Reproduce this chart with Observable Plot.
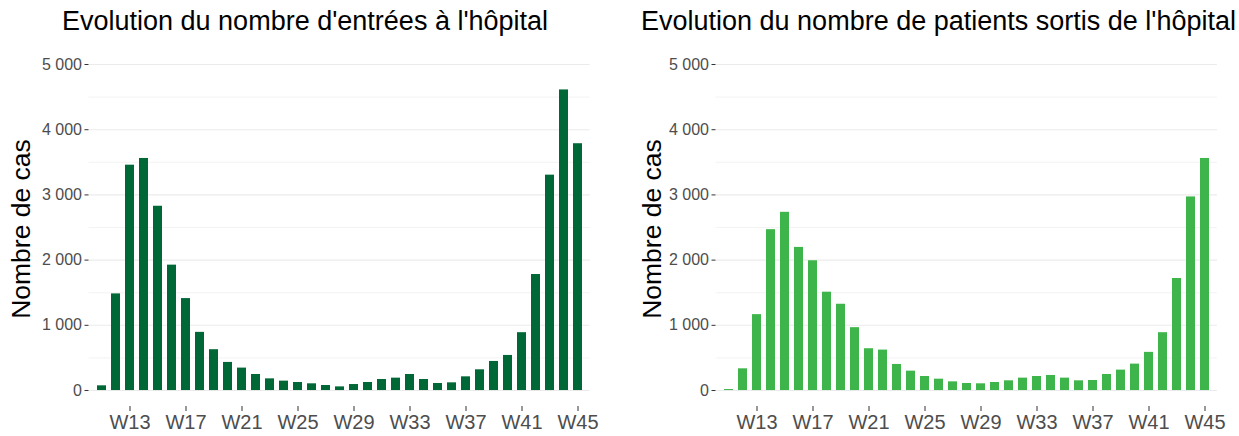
<!DOCTYPE html>
<html><head><meta charset="utf-8">
<script src="https://cdn.jsdelivr.net/npm/d3@7"></script>
<script src="https://cdn.jsdelivr.net/npm/@observablehq/plot@0.6"></script>
<style>
body{margin:0;background:#fff;width:1239px;height:436px;overflow:hidden;position:relative;font-family:"Liberation Sans",Arial,sans-serif;}
.title{position:absolute;font-size:27px;line-height:27px;color:#000;white-space:nowrap;}
.ylab{position:absolute;font-size:26.5px;line-height:26.5px;color:#000;white-space:nowrap;transform:translate(-50%,-50%) rotate(-90deg);}
.panel{position:absolute;top:40px;}
</style></head><body>
<script>
const weeks = ["W11","W12","W13","W14","W15","W16","W17","W18","W19","W20","W21","W22","W23","W24","W25","W26","W27","W28","W29","W30","W31","W32","W33","W34","W35","W36","W37","W38","W39","W40","W41","W42","W43","W44","W45"];
const entrees = [72,1482,3456,3559,2826,1923,1410,892,626,431,344,246,179,144,123,103,77,56,92,123,169,190,246,169,108,118,210,318,446,538,887,1779,3303,4610,3785];
const sorties = [15,333,1164,2467,2733,2195,1990,1508,1323,964,641,620,400,297,215,174,133,108,103,123,149,190,215,231,190,149,154,246,313,405,585,887,1718,2969,3559];
const xTickLabels = ["W13","W17","W21","W25","W29","W33","W37","W41","W45"];
const yTicks = [0,1000,2000,3000,4000,5000];
const yMinor = [500,1500,2500,3500,4500];
const titles = ["Evolution du nombre d'entrées à l'hôpital","Evolution du nombre de patients sortis de l'hôpital"];
const yLabel = "Nombre de cas";
const colors = ["#006837","#3db54a"];

const fr = d3.formatLocale({decimal:",", thousands:"\u00a0", grouping:[3], currency:["",""]});
const fmt = fr.format(",");

function panel(values, color, width, ml, mr){
  const data = weeks.map((w,i)=>({week:w, value:values[i]}));
  return Plot.plot({
    width, height:396, marginTop:24, marginBottom:30, marginLeft:ml, marginRight:mr,
    style:{fontFamily:"Liberation Sans, Arial, sans-serif", fontSize:"16px", color:"#4d4d4d", background:"transparent", overflow:"visible"},
    x:{type:"band", domain:weeks, paddingInner:0.368, paddingOuter:0.281, axis:null},
    y:{domain:[-245,5000], axis:null},
    marks:[
      Plot.ruleY(yMinor,{stroke:"#f0f0f0", strokeWidth:0.8}),
      Plot.ruleY(yTicks,{stroke:"#ebebeb", strokeWidth:1.1}),
      Plot.barY(data,{x:"week", y:"value", fill:color}),
      Plot.axisY(yTicks,{tickSize:4, tickPadding:3, tickFormat:fmt, stroke:"#333", label:null, fontSize:16}),
      Plot.axisX(xTickLabels,{tickSize:5, tickPadding:3.5, stroke:"#333", label:null, fontSize:20})
    ]
  });
}

function addPanel(i, left, width, ml, mr, titleLeft, ylabX){
  const d = document.createElement("div");
  d.className = "panel"; d.style.left = left+"px";
  d.appendChild(panel(i===0?entrees:sorties, colors[i], width, ml, mr));
  document.body.appendChild(d);
  const t = document.createElement("div");
  t.className = "title"; t.style.left = titleLeft+"px"; t.style.top = "8px";
  t.textContent = titles[i];
  document.body.appendChild(t);
  const y = document.createElement("div");
  y.className = "ylab"; y.style.left = ylabX+"px"; y.style.top = "228.5px";
  y.textContent = yLabel;
  document.body.appendChild(y);
}
addPanel(0, 0, 620, 88.5, 30.3, 62, 21);
addPanel(1, 620, 619, 95.5, 22.1, 641, 652);
</script>
</body></html>
